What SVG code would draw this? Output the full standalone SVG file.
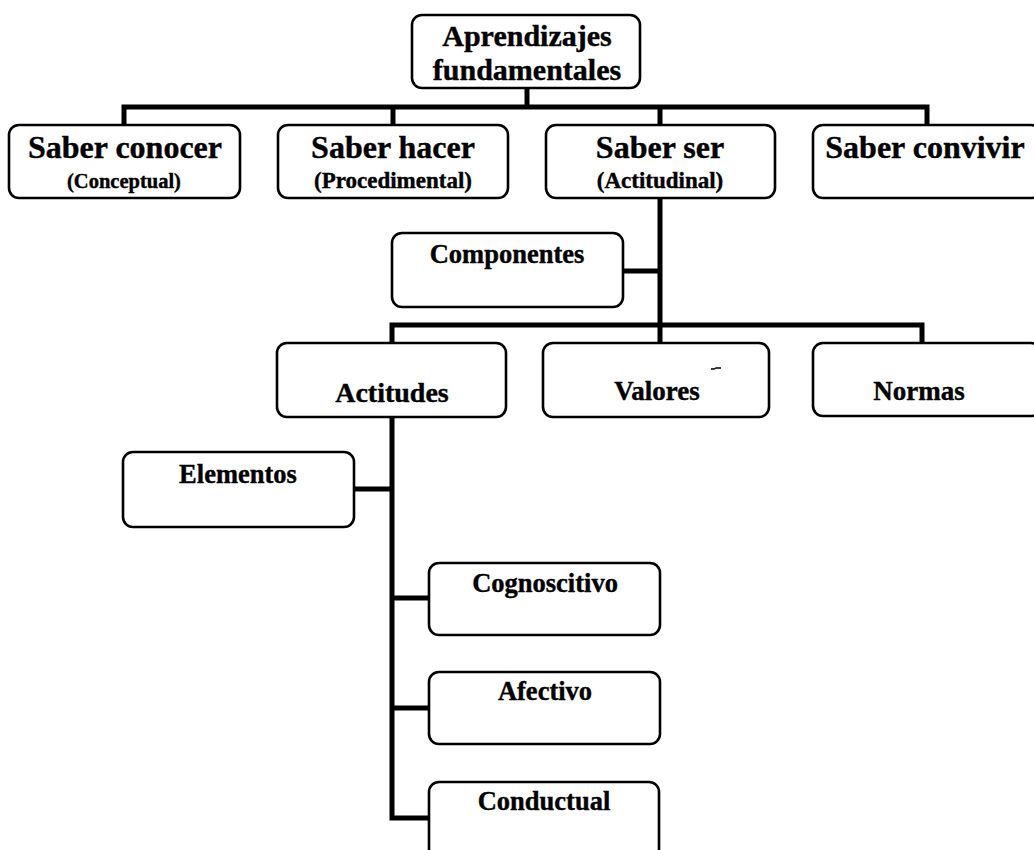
<svg xmlns="http://www.w3.org/2000/svg" width="1034" height="850" viewBox="0 0 1034 850">
<style>
.box{fill:#fff;stroke:#000;stroke-width:2.6}
.con{fill:none;stroke:#000;stroke-width:5;stroke-linecap:square;stroke-linejoin:miter}
text{font-family:"Liberation Serif","Times New Roman",serif;font-weight:bold;fill:#000;stroke:#000;stroke-width:0.4;text-anchor:middle}
.t1{font-size:32px}
.t0{font-size:30px}
.s1{font-size:23px}
.s2{font-size:20.5px}
.t2{font-size:26.5px}
</style>
<rect width="1034" height="850" fill="#fff"/>
<g id="connectors">
<path class="con" d="M527 88 V107 M124 107 H927 M124 107 V124 M393 107 V124 M660 107 V124 M927 107 V124"/>
<path class="con" d="M660 198 V342 M623 271 H660 M392 325 H922 M392 325 V342 M922 325 V342"/>
<path class="con" d="M392 417 V818 M354 489 H392 M392 598 H429 M392 708 H429 M392 818 H429"/>
</g>
<g id="aprendizajes">
<rect class="box" x="412" y="15" width="228" height="73" rx="10"/>
<text class="t0" x="527" y="46">Aprendizajes</text>
<text class="t0" x="527" y="80">fundamentales</text>
</g>
<g id="saber-conocer">
<rect class="box" x="9" y="125" width="231" height="73" rx="10"/>
<text class="t1" x="125" y="158">Saber conocer</text>
<text class="s2" x="124" y="188">(Conceptual)</text>
</g>
<g id="saber-hacer">
<rect class="box" x="278" y="125" width="230" height="73" rx="10"/>
<text class="t1" x="393" y="158">Saber hacer</text>
<text class="s1" x="393" y="188">(Procedimental)</text>
</g>
<g id="saber-ser">
<rect class="box" x="546" y="125" width="229" height="73" rx="10"/>
<text class="t1" x="660" y="158">Saber ser</text>
<text class="s1" x="660" y="188">(Actitudinal)</text>
</g>
<g id="saber-convivir">
<rect class="box" x="813" y="125" width="228" height="73" rx="10"/>
<text class="t1" x="925" y="158">Saber convivir</text>
</g>
<g id="componentes">
<rect class="box" x="392" y="233" width="231" height="74" rx="10"/>
<text class="t2" x="507" y="263">Componentes</text>
</g>
<g id="actitudes">
<rect class="box" x="277" y="343" width="229" height="74" rx="10"/>
<text class="t2" x="392" y="402" style="font-size:28px">Actitudes</text>
</g>
<g id="valores">
<rect class="box" x="543" y="343" width="226" height="74" rx="10"/>
<text class="t2" x="657" y="400" style="font-size:27px">Valores</text>
<path d="M711 369 h3 l2 -1 h5" fill="none" stroke="#000" stroke-width="1.3"/>
</g>
<g id="normas">
<rect class="box" x="813" y="343" width="228" height="73" rx="10"/>
<text class="t2" x="919" y="400" style="font-size:27px">Normas</text>
</g>
<g id="elementos">
<rect class="box" x="123" y="452" width="231" height="75" rx="10"/>
<text class="t2" x="238" y="483">Elementos</text>
</g>
<g id="cognoscitivo">
<rect class="box" x="429" y="563" width="231" height="72" rx="10"/>
<text class="t2" x="545" y="592">Cognoscitivo</text>
</g>
<g id="afectivo">
<rect class="box" x="429" y="672" width="231" height="72" rx="10"/>
<text class="t2" x="545" y="700">Afectivo</text>
</g>
<g id="conductual">
<rect class="box" x="429" y="782" width="230" height="80" rx="10"/>
<text class="t2" x="544" y="810">Conductual</text>
</g>
</svg>
